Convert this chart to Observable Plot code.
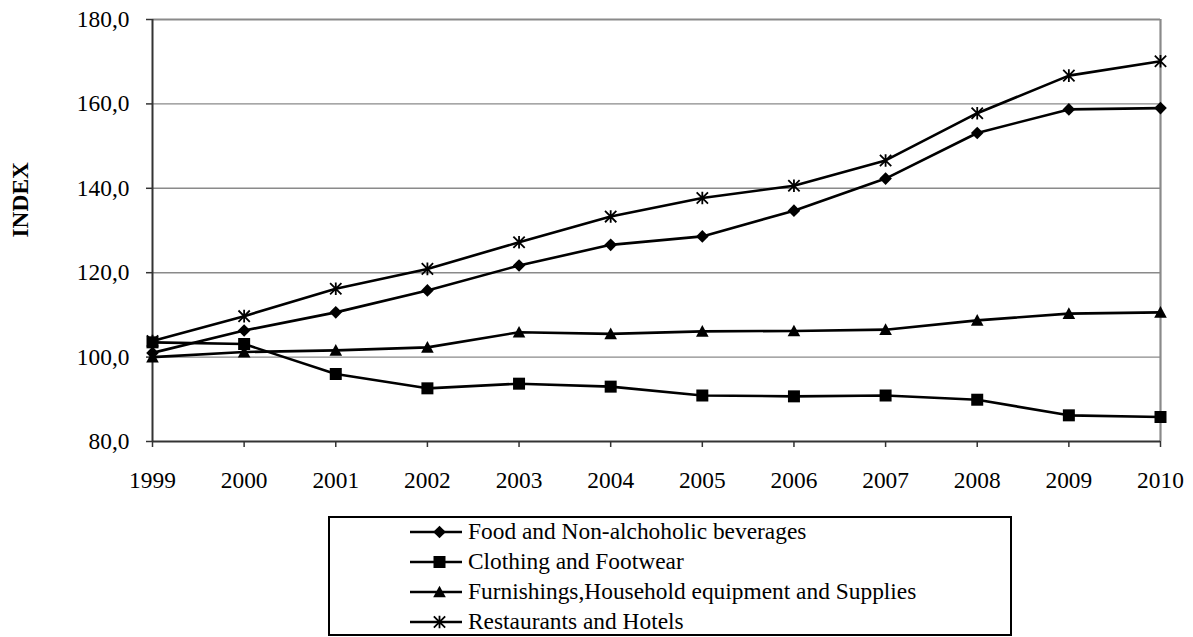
<!DOCTYPE html>
<html>
<head>
<meta charset="utf-8">
<script src="https://cdn.jsdelivr.net/npm/d3@7"></script>
<script src="https://cdn.jsdelivr.net/npm/@observablehq/plot@0.6"></script>
<style>
  html, body { margin: 0; padding: 0; background: #fff; }
  #wrap { position: relative; width: 1193px; height: 637px; font-family: "Liberation Serif", "Times New Roman", serif; }
  #legend { position: absolute; left: 328px; top: 516px; width: 684px; height: 120px; box-sizing: border-box; border: 2px solid #000; background: #fff; }
  .row { position: absolute; left: 0; height: 30px; display: flex; align-items: center; font-size: 23.4px; color: #000; white-space: nowrap; }
  .row svg { display: block; margin-left: 80px; margin-right: 5px; }
</style>
</head>
<body>
<div id="wrap">
  <div id="chart"></div>
  <div id="legend"></div>
</div>
<script>
// ---- data ----
const years = [1999, 2000, 2001, 2002, 2003, 2004, 2005, 2006, 2007, 2008, 2009, 2010];
const seriesNames = [
  "Food and Non-alchoholic beverages",
  "Clothing and Footwear",
  "Furnishings,Household equipment and Supplies",
  "Restaurants and Hotels"
];
const food        = [101.0, 106.3, 110.6, 115.8, 121.7, 126.6, 128.6, 134.7, 142.3, 153.1, 158.7, 159.0];
const clothing    = [103.5, 103.1,  96.0,  92.6,  93.7,  93.0,  90.9,  90.7,  90.9,  89.9,  86.2,  85.8];
const furnishings = [100.0, 101.2, 101.6, 102.3, 105.9, 105.5, 106.1, 106.2, 106.5, 108.7, 110.3, 110.6];
const restaurants = [103.8, 109.7, 116.2, 120.9, 127.2, 133.3, 137.7, 140.6, 146.6, 157.8, 166.7, 170.1];
const yTicks = [80, 100, 120, 140, 160, 180];
const yTitle = "INDEX";

// ---- symbols (Excel-like markers) ----
const rad = s => Math.sqrt(s / Math.PI);
const symDiamond = { draw(c, s) { const r = rad(s) * 1.05; c.moveTo(0, -r); c.lineTo(r, 0); c.lineTo(0, r); c.lineTo(-r, 0); c.closePath(); } };
const symSquare = { draw(c, s) { const r = rad(s); c.rect(-r, -r, 2 * r, 2 * r); } };
const symTriangle = { draw(c, s) { const r = rad(s); c.moveTo(0, -r); c.lineTo(r, r * 0.85); c.lineTo(-r, r * 0.85); c.closePath(); } };
const symStar = { draw(c, s) { const r = rad(s); const d = r * 0.9; c.moveTo(0, -r); c.lineTo(0, r); c.moveTo(-d, -d); c.lineTo(d, d); c.moveTo(-d, d); c.lineTo(d, -d); } };

const seriesVals = [food, clothing, furnishings, restaurants];
const seriesSym = [symDiamond, symSquare, symTriangle, symStar];
const seriesR = [6, 6, 6.3, 6.3];
const seriesFilled = [true, true, true, false];

const rows = [];
seriesNames.forEach((name, i) => {
  years.forEach((yr, j) => rows.push({ series: name, year: yr, value: seriesVals[i][j] }));
});

const fmt = d => d.toFixed(1).replace(".", ",");
const font = "Liberation Serif, Times New Roman, serif";

const marks = [
  Plot.ruleY(yTicks.slice(1, -1), { stroke: "#8a8a8a", strokeWidth: 1.4 }),
  Plot.ruleY([180], { stroke: "#8a8a8a", strokeWidth: 2.2 }),
  Plot.ruleX([2010], { stroke: "#8a8a8a", strokeWidth: 2.2 }),
  Plot.ruleX([1999], { stroke: "#333", strokeWidth: 2 }),
  Plot.ruleY([80], { stroke: "#333", strokeWidth: 2 }),
  Plot.axisY({ ticks: yTicks, tickFormat: fmt, tickSize: 6, tickPadding: 17, fontSize: 23.4, stroke: "#333", strokeWidth: 1.5, label: null }),
  Plot.axisX({ ticks: years, tickFormat: d => String(d), tickSize: 6, tickPadding: 24, fontSize: 23.4, stroke: "#333", strokeWidth: 1.5, label: null }),
  Plot.text([yTitle], { frameAnchor: "left", dx: -132, dy: 7, rotate: -90, fontWeight: "bold", fontSize: 23.4, fill: "#000", fontFamily: font })
];
seriesNames.forEach((name, i) => {
  const d = rows.filter(r => r.series === name);
  marks.push(Plot.line(d, { x: "year", y: "value", stroke: "#000", strokeWidth: 2.6 }));
  marks.push(Plot.dot(d, seriesFilled[i]
    ? { x: "year", y: "value", symbol: seriesSym[i], r: seriesR[i], fill: "#000", stroke: "none" }
    : { x: "year", y: "value", symbol: seriesSym[i], r: seriesR[i], fill: "none", stroke: "#000", strokeWidth: 1.8 }));
});

const chart = Plot.plot({
  width: 1193,
  height: 500,
  marginLeft: 152,
  marginRight: 33,
  marginTop: 19,
  marginBottom: 59,
  style: { fontFamily: font, fontSize: "23.4px", color: "#000", background: "#fff", overflow: "visible" },
  x: { type: "linear", domain: [1999, 2010] },
  y: { type: "linear", domain: [80, 180] },
  marks
});
document.getElementById("chart").appendChild(chart);

// ---- legend ----
const legend = document.getElementById("legend");
seriesNames.forEach((name, i) => {
  const row = document.createElement("div");
  row.className = "row";
  row.style.top = (-1.5 + 30 * i) + "px";
  const p = d3.path();
  seriesSym[i].draw(p, seriesR[i] * seriesR[i] * Math.PI);
  const svg = `<svg width="53" height="30" viewBox="0 0 53 30">
    <line x1="0" x2="52" y1="15" y2="15" stroke="#000" stroke-width="2.6"/>
    <path transform="translate(29.5,15)" d="${p.toString()}" fill="${seriesFilled[i] ? "#000" : "none"}" stroke="${seriesFilled[i] ? "none" : "#000"}" stroke-width="1.8"/>
  </svg>`;
  row.innerHTML = svg + `<span>${name}</span>`;
  legend.appendChild(row);
});
</script>
</body>
</html>
